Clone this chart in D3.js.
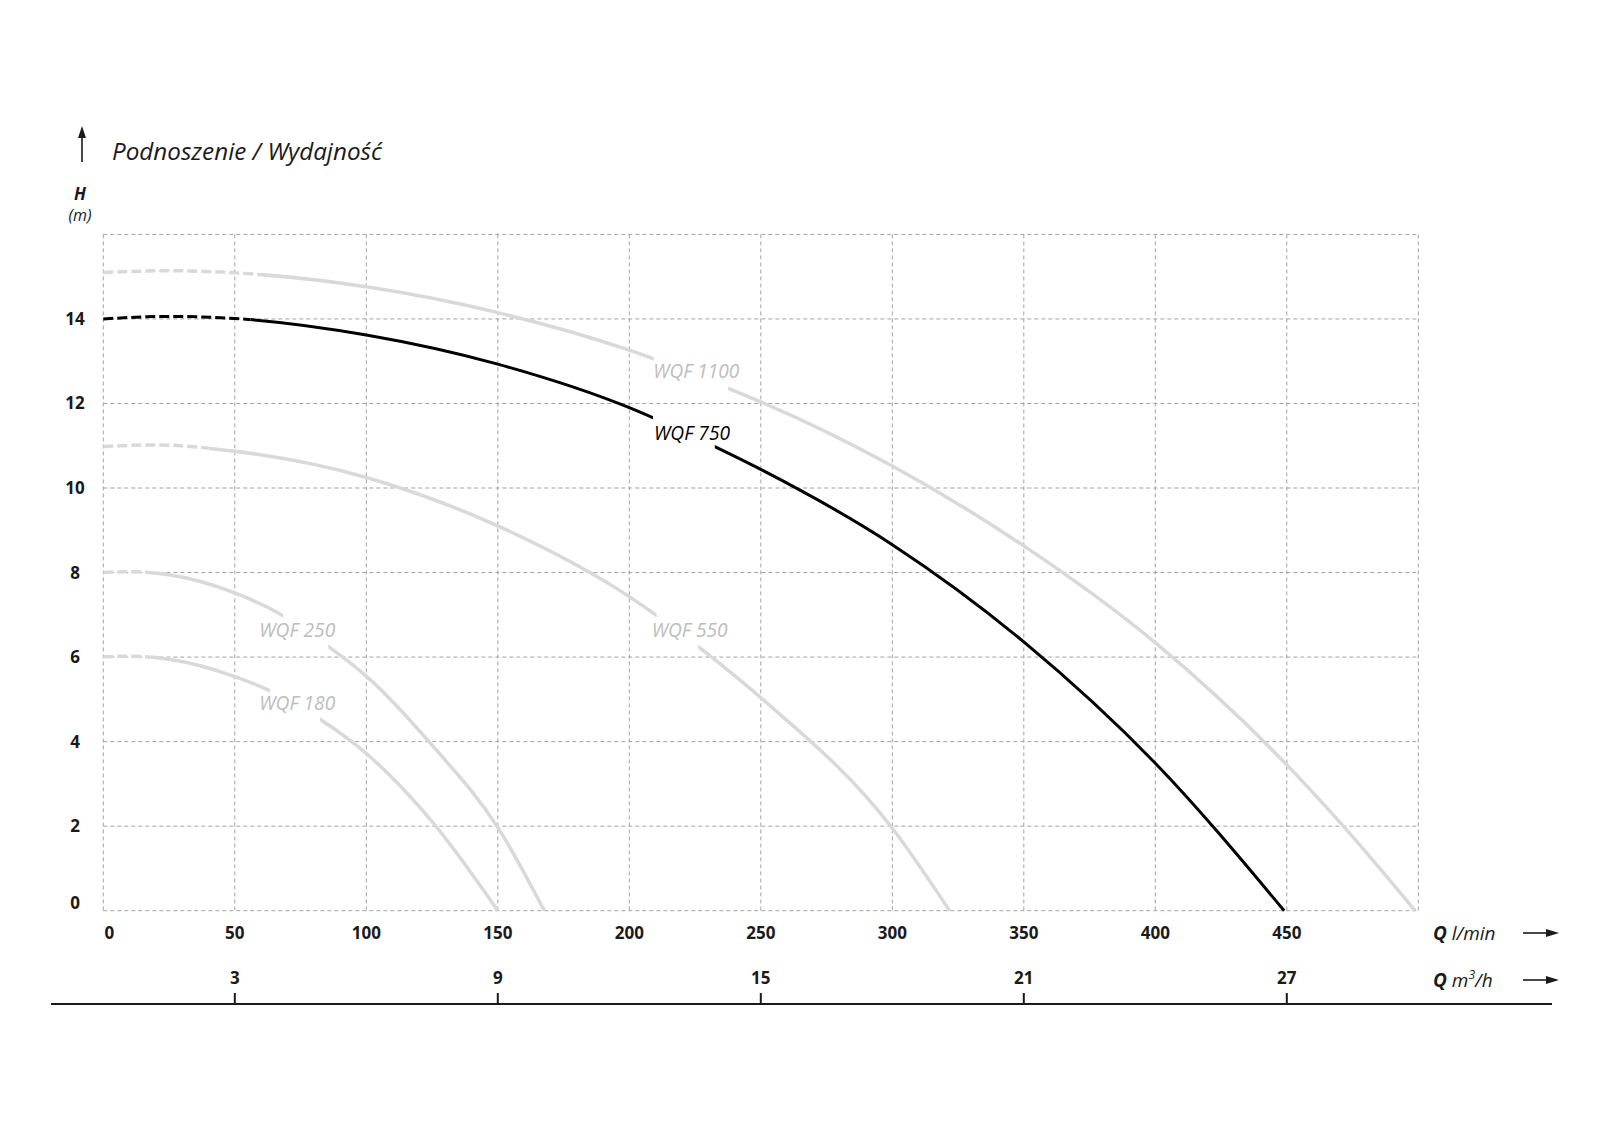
<!DOCTYPE html>
<html><head><meta charset="utf-8">
<script src="https://cdn.jsdelivr.net/npm/d3@7"></script>
<style>body{margin:0;background:#fff}svg{display:block}text{font-family:"Open Sans",sans-serif}</style>
</head><body><svg id="c" width="1600" height="1143"></svg>
<script>
// ---------- data ----------
const qTicks = [0, 50, 100, 150, 200, 250, 300, 350, 400, 450];
const qGrid = [0, 50, 100, 150, 200, 250, 300, 350, 400, 450, 500];
const hTicks = [0, 2, 4, 6, 8, 10, 12, 14];
const hGrid = [0, 2, 4, 6, 8, 10, 12, 14, 16];
const m3hTicks = [3, 9, 15, 21, 27];

const seriesNames = ["WQF 180", "WQF 250", "WQF 550", "WQF 750", "WQF 1100"];
const wqf180Q = [0, 10, 25, 50, 63.4, 82.4, 100, 125.5, 150];
const wqf180H = [6.01, 6.02, 5.95, 5.54, 5.20, 4.53, 3.72, 2.07, 0];
const wqf250Q = [0, 10, 25, 50, 68.4, 85.6, 100, 125.5, 150, 167.7];
const wqf250H = [8.0, 8.02, 7.95, 7.52, 6.98, 6.25, 5.55, 3.88, 1.97, 0];
const wqf550Q = [0, 20, 50, 100, 150.8, 200, 226.2, 250, 300, 321.8];
const wqf550H = [10.98, 11.02, 10.87, 10.25, 9.08, 7.43, 6.25, 5.04, 1.95, 0];
const wqf750Q = [0, 25, 50, 100, 150, 200, 232.5, 250, 300, 350, 400, 449];
const wqf750H = [14.0, 14.06, 14.01, 13.62, 12.93, 11.90, 10.98, 10.44, 8.66, 6.36, 3.49, 0];
const wqf1100Q = [0, 25, 50, 100, 150, 200, 237.6, 250, 300, 350, 400, 450, 471.5, 498.8];
const wqf1100H = [15.10, 15.14, 15.09, 14.76, 14.15, 13.26, 12.36, 12.04, 10.52, 8.63, 6.34, 3.45, 2.0, 0];

const dashEndQ = [18, 16, 40, 56, 60];          // part drawn dashed (low-flow region)
const gapQ = [[63.4, 82.4], [68.4, 85.6], [210.4, 226.2], [209, 232.5], [209.3, 237.6]];
const labelQ = [59.3, 59.3, 208.5, 209.4, 209.1];
const labelH = [4.75, 6.47, 6.47, 11.14, 12.6];
const highlighted = "WQF 750";

// ---------- build ----------
const seriesQ = [wqf180Q, wqf250Q, wqf550Q, wqf750Q, wqf1100Q];
const seriesH = [wqf180H, wqf250H, wqf550H, wqf750H, wqf1100H];
const series = seriesNames.map((n, i) => ({
  name: n, pts: seriesQ[i].map((q, j) => [q, seriesH[i][j]]),
  dashEnd: dashEndQ[i], gap: gapQ[i], lq: labelQ[i], lh: labelH[i]
}));

const svg = d3.select("#c");
svg.append("rect").attr("width", 1600).attr("height", 1143).attr("fill", "#fff");
const x = d3.scaleLinear().domain([0, 500]).range([103.3, 1418.3]);
const y = d3.scaleLinear().domain([0, 16]).range([910.7, 234.4]);

// grid
const grid = svg.append("g").attr("stroke", "#a3a3a3").attr("stroke-width", 1).attr("stroke-dasharray", "4,3").attr("fill", "none");
grid.selectAll("line.v").data(qGrid).join("line").attr("class", "v")
  .attr("x1", d => x(d)).attr("x2", d => x(d)).attr("y1", y(16)).attr("y2", y(0));
grid.selectAll("line.h").data(hGrid).join("line").attr("class", "h")
  .attr("x1", x(0)).attr("x2", x(500)).attr("y1", d => y(d)).attr("y2", d => y(d));

// curves
const defs = svg.append("defs");
const line = d3.line().x(d => x(d[0])).y(d => y(d[1])).curve(d3.curveMonotoneX);
const curves = svg.append("g");
series.forEach((s, i) => {
  const hi = s.name === highlighted;
  const col = hi ? "#000" : "#d9d9d9";
  const w = hi ? 3 : 3.5;
  const cd = defs.append("clipPath").attr("id", "cd" + i);
  cd.append("rect").attr("x", 0).attr("y", 0).attr("width", x(s.dashEnd)).attr("height", 1143);
  const cs = defs.append("clipPath").attr("id", "cs" + i);
  cs.append("rect").attr("x", x(s.dashEnd)).attr("y", 0).attr("width", x(s.gap[0]) - x(s.dashEnd)).attr("height", 1143);
  cs.append("rect").attr("x", x(s.gap[1])).attr("y", 0).attr("width", 1600 - x(s.gap[1])).attr("height", 1143);
  curves.append("path").attr("d", line(s.pts)).attr("fill", "none").attr("stroke", col)
    .attr("stroke-width", w).attr("stroke-dasharray", "10,4").attr("clip-path", `url(#cd${i})`);
  curves.append("path").attr("d", line(s.pts)).attr("fill", "none").attr("stroke", col)
    .attr("stroke-width", w).attr("clip-path", `url(#cs${i})`);
  const t = curves.append("text").attr("x", x(s.lq)).attr("y", y(s.lh))
    .attr("font-style", "italic").attr("font-size", 20)
    .attr("fill", hi ? "#000" : "#bdbdbd").text(s.name);
  t.attr("textLength", s.name.length > 7 ? 86 : 76).attr("lengthAdjust", "spacingAndGlyphs");
});

// y tick labels
svg.append("g").selectAll("text").data(hTicks).join("text")
  .attr("x", 75).attr("y", d => y(d) + (d === 0 ? -8 : 0)).attr("dy", "0.35em")
  .attr("text-anchor", "middle").attr("font-weight", 700).attr("font-size", 17).attr("fill", "#1a1a1a")
  .text(d => d);

// x tick labels (l/min)
svg.append("g").selectAll("text").data(qTicks).join("text")
  .attr("x", d => x(d) + (d === 0 ? 6 : 0)).attr("y", 939)
  .attr("text-anchor", "middle").attr("font-weight", 700).attr("font-size", 17).attr("fill", "#1a1a1a")
  .text(d => d);

// second axis m3/h
const ax2 = svg.append("g");
ax2.append("line").attr("x1", 51).attr("x2", 1552).attr("y1", 1004).attr("y2", 1004)
  .attr("stroke", "#1a1a1a").attr("stroke-width", 2);
ax2.selectAll("line.t").data(m3hTicks).join("line").attr("class", "t")
  .attr("x1", d => x(d * 1000 / 60)).attr("x2", d => x(d * 1000 / 60))
  .attr("y1", 993).attr("y2", 1004).attr("stroke", "#1a1a1a").attr("stroke-width", 2);
ax2.selectAll("text").data(m3hTicks).join("text")
  .attr("x", d => x(d * 1000 / 60)).attr("y", 984)
  .attr("text-anchor", "middle").attr("font-weight", 700).attr("font-size", 17).attr("fill", "#1a1a1a")
  .text(d => d);

// unit labels + arrows
const u1 = svg.append("text").attr("x", 1433).attr("y", 940).attr("font-size", 19).attr("font-style", "italic").attr("fill", "#1a1a1a");
u1.append("tspan").attr("font-weight", 700).text("Q");
u1.append("tspan").text(" l/min");
const u2 = svg.append("text").attr("x", 1433).attr("y", 987).attr("font-size", 19).attr("font-style", "italic").attr("fill", "#1a1a1a");
u2.append("tspan").attr("font-weight", 700).text("Q");
u2.append("tspan").text(" m");
u2.append("tspan").attr("font-size", 12).attr("dy", -8).text("3");
u2.append("tspan").attr("dy", 8).text("/h");
[933, 980].forEach(yy => {
  svg.append("line").attr("x1", 1523).attr("x2", 1548).attr("y1", yy).attr("y2", yy).attr("stroke", "#1a1a1a").attr("stroke-width", 1.6);
  svg.append("path").attr("d", `M1546,${yy - 4}L1559,${yy}L1546,${yy + 4}Z`).attr("fill", "#1a1a1a");
});

// title + H axis label
svg.append("line").attr("x1", 82).attr("x2", 82).attr("y1", 162).attr("y2", 136).attr("stroke", "#1a1a1a").attr("stroke-width", 1.6);
svg.append("path").attr("d", "M78,138L82,126L86,138Z").attr("fill", "#1a1a1a");
svg.append("text").attr("x", 112).attr("y", 160).attr("font-size", 24).attr("font-style", "italic")
  .attr("fill", "#1a1a1a").attr("textLength", 270).attr("lengthAdjust", "spacingAndGlyphs")
  .text("Podnoszenie / Wydajność");
svg.append("text").attr("x", 80).attr("y", 200).attr("text-anchor", "middle").attr("font-size", 17)
  .attr("font-weight", 700).attr("font-style", "italic").attr("fill", "#1a1a1a").text("H");
svg.append("text").attr("x", 80).attr("y", 221).attr("text-anchor", "middle").attr("font-size", 16)
  .attr("font-style", "italic").attr("fill", "#1a1a1a").text("(m)");
</script></body></html>
